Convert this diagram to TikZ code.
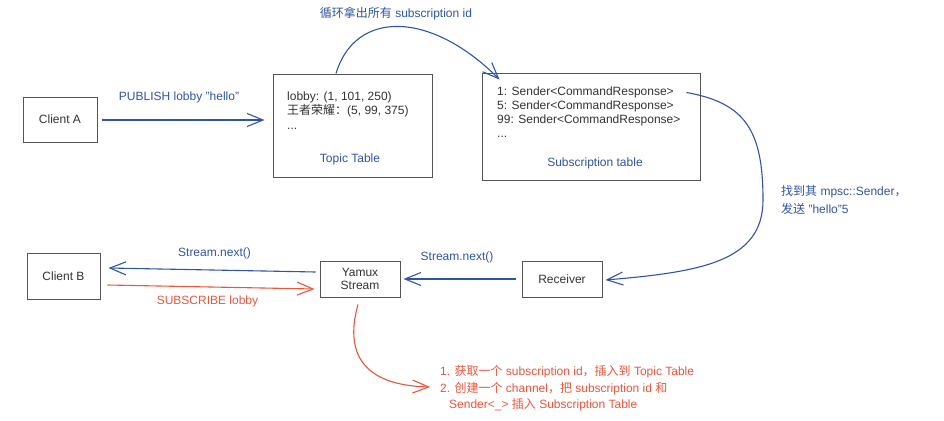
\documentclass[tikz,border=0pt]{standalone}
\usepackage{fontspec}
\setmainfont{Liberation Sans}
\newfontfamily\cjk{Noto Sans CJK SC}
\usetikzlibrary{arrows.meta}
\definecolor{cblue}{HTML}{2F54A8}
\definecolor{cred}{HTML}{E8563C}
\definecolor{cgray}{HTML}{555555}
\definecolor{ctext}{HTML}{333333}
\begin{document}
\begin{tikzpicture}[x=1pt,y=-1pt,
  box/.style={draw=cgray,line width=1pt,fill=white,inner sep=0pt,text=ctext,
    font=\fontsize{12}{13}\selectfont,align=center},
  txt/.style={font=\fontsize{12}{14}\selectfont,text=ctext,inner sep=0pt},
  btxt/.style={txt,text=cblue},
  rtxt/.style={txt,text=cred},
  tip/.style={-{Straight Barb[length=16pt,width=13pt,line width=1.1pt]}},
  barrow/.style={draw=cblue,line width=1.1pt,tip},
  rarrow/.style={draw=cred,line width=1.1pt,tip}]
\useasboundingbox (0,0) rectangle (944,420);

% boxes
\node[box,minimum width=74pt,minimum height=45pt] (ca) at (60,119.5) {Client A};
\node[box,minimum width=159pt,minimum height=103pt] (topic) at (352.5,125.5) {};
\node[box,minimum width=218pt,minimum height=107pt] (sub) at (591,126.5) {};
\node[box,minimum width=80pt,minimum height=36pt] (rec) at (562,279) {Receiver};
\node[box,minimum width=80pt,minimum height=36pt] (yam) at (360,279) {Yamux\\Stream};
\node[box,minimum width=73pt,minimum height=46pt] (cb) at (63.5,276) {Client B};

% topic table content
\node[txt,anchor=base west] (t1) at (287,100) {lobby: (1, 101, 250)};
\node[txt,anchor=base west] (t2) at (287,114.5) {{\cjk 王者荣耀：}(5, 99, 375)};
\node[txt,anchor=base west] (t3) at (287,129) {...};
\node[btxt] (tt) at (350,159) {Topic Table};

% subscription table content
\node[txt,anchor=base west] (s1) at (497,95) {1: Sender<CommandResponse>};
\node[txt,anchor=base west] (s2) at (497,109) {5: Sender<CommandResponse>};
\node[txt,anchor=base west] (s3) at (497,123.5) {99: Sender<CommandResponse>};
\node[txt,anchor=base west] (s4) at (497,137) {...};
\node[btxt] (st) at (595,163) {Subscription table};

% labels
\node[btxt] (l1) at (396,14) {{\cjk 循环拿出所有} subscription id};
\node[btxt] (l2) at (179,97) {PUBLISH lobby "hello"};
\node[btxt,anchor=west,align=left,font=\fontsize{12}{18}\selectfont] (l3) at (781,200)
  {{\cjk 找到其} mpsc::Sender{\cjk ，}\\{\cjk 发送} "hello"5};
\node[btxt] (l4) at (457,257.5) {Stream.next()};
\node[btxt] (l5) at (214.5,253) {Stream.next()};
\node[rtxt] (l6) at (207.5,301.5) {SUBSCRIBE lobby};
\node[rtxt,anchor=west,align=left,font=\fontsize{12}{16.5}\selectfont] (l7) at (440,388.5)
  {1. {\cjk 获取一个} subscription id{\cjk ，插入到} Topic Table\\
   2. {\cjk 创建一个} channel{\cjk ，把} subscription id {\cjk 和}\\
   \hspace*{9pt}Sender<\_> {\cjk 插入} Subscription Table};

% connectors
\draw[barrow] ([shift={(4,0.5)}]ca.east) -- ([shift={(-8,-5.5)}]topic.west);
\draw[barrow] ([shift={(-16.5,0)}]topic.north) .. controls (355,10) and (430,10) .. ([shift={(18,7)}]sub.north west);
\draw[barrow] ([shift={(-14,20)}]sub.north east) .. controls (745,103) and (763,130) .. (763,200)
  .. controls (763,262) and (700,272) .. ([shift={(3,1)}]rec.east);
\draw[barrow] ([shift={(-6,0)}]rec.west) -- ([shift={(3,0)}]yam.east);
\draw[barrow] ([shift={(-4,-7)}]yam.west) -- ([shift={(8,-8)}]cb.east);
\draw[rarrow] ([shift={(7,9)}]cb.east) -- ([shift={(-5,10)}]yam.west);
\draw[rarrow] ([shift={(-2,7)}]yam.south) .. controls (348,340) and (350,385) .. ([shift={(-10,-1.5)}]l7.west);
\end{tikzpicture}
\end{document}
